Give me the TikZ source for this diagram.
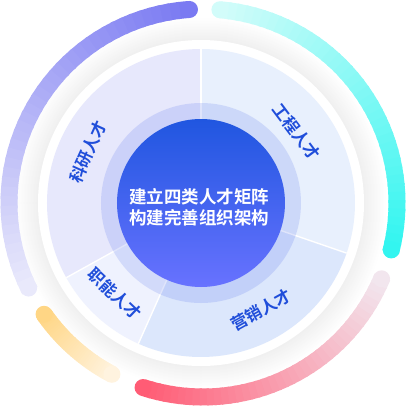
\documentclass[tikz,border=0pt]{standalone}
\usepackage{fontspec}
\usepackage{xcolor}
\usepackage{tikz}
\newfontfamily\cjk{Noto Sans CJK SC Bold}
\definecolor{arcpurple}{RGB}{122,122,242}
\definecolor{arcpurplelt}{RGB}{233,233,251}
\definecolor{arccyan}{RGB}{51,245,240}
\definecolor{arccyanlt}{RGB}{210,252,250}
\definecolor{arcyellow}{RGB}{255,214,133}
\definecolor{arcyellowlt}{RGB}{255,243,223}
\definecolor{arcred}{RGB}{255,92,117}
\definecolor{arcredlt}{RGB}{242,230,238}
\definecolor{secresearch}{RGB}{231,232,252}
\definecolor{secengineer}{RGB}{232,240,253}
\definecolor{secsales}{RGB}{220,231,252}
\definecolor{secsupport}{RGB}{239,242,254}
\definecolor{ringblue}{RGB}{70,100,235}
\definecolor{hubtop}{RGB}{32,86,224}
\definecolor{hubbottom}{RGB}{104,114,255}
\definecolor{labelblue}{RGB}{32,78,218}
\tikzset{
  divider/.style={draw=white, line width=1.4pt},
  talent/.style={font=\cjk\fontsize{16.5}{19}\selectfont,
    text=labelblue, inner sep=0pt},
  hubtext/.style={font=\cjk\fontsize{17.5}{21}\selectfont,
    text=white, align=center, inner sep=0pt}
}
% gradient arc: start angle, end angle, start colour, end colour
\newcommand{\gradarc}[4]{%
  \foreach \i in {0,...,39}{
    \pgfmathsetmacro{\ta}{#1+(#2-#1)*\i/40}
    \pgfmathsetmacro{\tb}{#1+(#2-#1)*(\i+1.3)/40}
    \pgfmathsetmacro{\pc}{100-\i*100/39}
    \draw[line width=17pt, draw=#3!\pc!#4] (\ta:194) arc[start angle=\ta, end angle=\tb, radius=194];
  }
  \fill[#3] (#1:194) circle (8.5);
  \fill[#4] (#2:194) circle (8.5);
}

\begin{document}
\begin{tikzpicture}[x=1pt, y=1pt]
  \useasboundingbox (-201,-205) rectangle (207,203);

  % soft grey halo
  \foreach \r in {186,185,...,163}{
    \pgfmathsetmacro{\k}{6*(186-\r)/23}
    \fill[black!\k!white] (0,0) circle (\r);
  }

  % outer coloured arcs
  \begin{scope}[shift={(2,0)}]
    \gradarc{94}{206}{arcpurple}{arcpurplelt}
    \gradarc{85}{-14}{arccyanlt}{arccyan}
    \gradarc{215}{242}{arcyellow}{arcyellowlt}
    \gradarc{252}{337}{arcred}{arcredlt}
  \end{scope}

  % white ring and sectors
  \fill[white] (0,0) circle (163);
  \fill[secresearch] (0,0) -- (90:154) arc[start angle=90, end angle=209, radius=154] -- cycle;
  \fill[secsupport] (0,0) -- (209:154) arc[start angle=209, end angle=246, radius=154] -- cycle;
  \fill[secsales] (0,0) -- (246:154) arc[start angle=246, end angle=341, radius=154] -- cycle;
  \fill[secengineer] (0,0) -- (-19:154) arc[start angle=-19, end angle=90, radius=154] -- cycle;
  \foreach \ang in {90,209,246,-19}
    \draw[divider] (0,0) -- (\ang:154);

  % inner ring and hub
  \fill[ringblue, opacity=0.17] (0,0) circle (100);
  \shade[top color=hubtop, bottom color=hubbottom] (0,0) circle (84);
  \node[hubtext] (hub) at (-1.5,-4.5) {建立四类人才矩阵\\构建完善组织架构};

  % sector labels
  \node[talent, rotate=65.7] (research) at (155.7:124) {科研人才};
  \node[talent, rotate=-53] (engineer) at (36.8:119) {工程人才};
  \node[talent, rotate=29] (sales) at (-60.7:123) {营销人才};
  \node[talent, rotate=-43.5] (support) at (226.6:125) {职能人才};
\end{tikzpicture}
\end{document}
